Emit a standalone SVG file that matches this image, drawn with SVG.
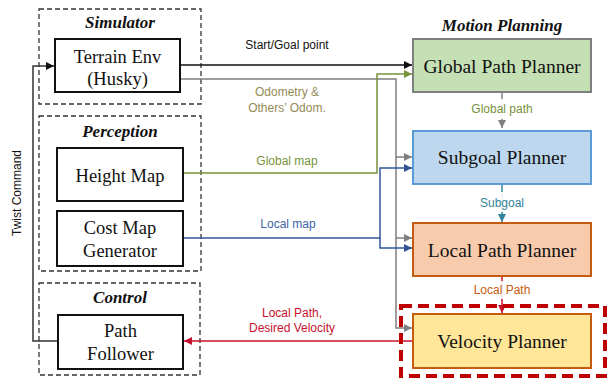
<svg xmlns="http://www.w3.org/2000/svg" width="614" height="380" viewBox="0 0 614 380">
<style>
.grp{fill:none;stroke:#333;stroke-width:1.3;stroke-dasharray:5 3}
.box{fill:#fff;stroke:#111;stroke-width:2}
.bt{font-family:"Liberation Serif","Times New Roman",serif;font-size:18.5px;fill:#111;text-anchor:middle}
.pt{font-family:"Liberation Serif","Times New Roman",serif;font-size:19.5px;fill:#111;text-anchor:middle}
.title{font-family:"Liberation Serif","Times New Roman",serif;font-size:17px;font-weight:bold;font-style:italic;fill:#111;text-anchor:middle}
.lbl{font-family:"Liberation Sans",Arial,sans-serif;font-size:12px;text-anchor:middle}
.ln{fill:none;stroke-width:1.5}
</style>
<defs>
<marker id="ak" markerUnits="userSpaceOnUse" markerWidth="9" markerHeight="9" refX="8" refY="4" orient="auto"><path d="M0,0 L8,4 L0,8 z" fill="#111"/></marker>
<marker id="ag" markerUnits="userSpaceOnUse" markerWidth="9" markerHeight="9" refX="8" refY="4" orient="auto"><path d="M0,0 L8,4 L0,8 z" fill="#7f7f7f"/></marker>
<marker id="agr" markerUnits="userSpaceOnUse" markerWidth="9" markerHeight="9" refX="8" refY="4" orient="auto"><path d="M0,0 L8,4 L0,8 z" fill="#77933c"/></marker>
<marker id="ab" markerUnits="userSpaceOnUse" markerWidth="9" markerHeight="9" refX="8" refY="4" orient="auto"><path d="M0,0 L8,4 L0,8 z" fill="#2f5597"/></marker>
<marker id="at" markerUnits="userSpaceOnUse" markerWidth="9" markerHeight="9" refX="8" refY="4" orient="auto"><path d="M0,0 L8,4 L0,8 z" fill="#31849b"/></marker>
<marker id="ar" markerUnits="userSpaceOnUse" markerWidth="9" markerHeight="9" refX="8" refY="4" orient="auto"><path d="M0,0 L8,4 L0,8 z" fill="#c8102e"/></marker>
</defs>

<g id="groups">
<rect class="grp" x="39" y="9" width="162" height="95"/>
<text class="title" x="120" y="28">Simulator</text>
<rect class="grp" x="39" y="116" width="162" height="155"/>
<text class="title" x="120" y="137">Perception</text>
<rect class="grp" x="39" y="283" width="161" height="92"/>
<text class="title" x="120" y="303">Control</text>
<text class="title" x="502" y="31">Motion Planning</text>
</g>

<g id="connectors">
<path class="ln" d="M180 65 H412" stroke="#111" marker-end="url(#ak)"/>
<path class="ln" d="M180 79 H396 V328 H412" stroke="#7f7f7f" marker-end="url(#ag)"/>
<path class="ln" d="M396 157 H412" stroke="#7f7f7f" marker-end="url(#ag)"/>
<path class="ln" d="M396 238 H412" stroke="#7f7f7f" marker-end="url(#ag)"/>
<path class="ln" d="M183 173 H377 V74 H412" stroke="#77933c" marker-end="url(#agr)"/>
<path class="ln" d="M183 238 H380 V168 H412" stroke="#2f5597" marker-end="url(#ab)"/>
<path class="ln" d="M380 238 V248 H412" stroke="#2f5597" marker-end="url(#ab)"/>
<path class="ln" d="M413 341 H184" stroke="#c8102e" marker-end="url(#ar)"/>
<path class="ln" d="M58 341 H33 V66 H54" stroke="#333" stroke-width="2" marker-end="url(#ak)"/>
<path class="ln" d="M502 92 V128" stroke="#7f7f7f" marker-end="url(#ag)"/>
<path class="ln" d="M502 184 V222" stroke="#31849b" marker-end="url(#at)"/>
<path class="ln" d="M502 276 V313" stroke="#c8102e" marker-end="url(#ar)"/>
<rect x="428" y="99" width="148" height="20" fill="#fff" opacity="0.9"/>
<rect x="455" y="192" width="94" height="20" fill="#fff" opacity="0.9"/>
<rect x="455" y="281" width="94" height="18" fill="#fff" opacity="0.9"/>
<text class="lbl" x="287" y="49" fill="#111">Start/Goal point</text>
<text class="lbl" x="287" y="96" fill="#948a54">Odometry &amp;</text>
<text class="lbl" x="287" y="112" fill="#948a54">Others’ Odom.</text>
<text class="lbl" x="287" y="165" fill="#77933c">Global map</text>
<text class="lbl" x="288" y="228" fill="#3d64a8">Local map</text>
<text class="lbl" x="292" y="317" fill="#c8102e">Local Path,</text>
<text class="lbl" x="292" y="332" fill="#c8102e">Desired Velocity</text>
<text class="lbl" x="502" y="113" fill="#77933c">Global path</text>
<text class="lbl" x="502" y="207" fill="#31849b">Subgoal</text>
<text class="lbl" x="502" y="294" fill="#c55a11">Local Path</text>
<text class="lbl" transform="translate(21,193) rotate(-90)" fill="#111">Twist Command</text>
</g>

<g id="terrain">
<rect class="box" x="55" y="39" width="125" height="53"/>
<text class="bt" x="117.5" y="63">Terrain Env</text>
<text class="bt" x="117.5" y="85">(Husky)</text>
</g>
<g id="heightmap">
<rect class="box" x="57" y="148" width="126" height="53"/>
<text class="bt" x="120" y="182">Height Map</text>
</g>
<g id="costmap">
<rect class="box" x="57" y="211" width="126" height="55"/>
<text class="bt" x="120" y="234">Cost Map</text>
<text class="bt" x="120" y="257">Generator</text>
</g>
<g id="pathfollower">
<rect class="box" x="58" y="315" width="125" height="54"/>
<text class="bt" x="120.5" y="337">Path</text>
<text class="bt" x="120.5" y="360">Follower</text>
</g>

<g id="global">
<rect x="413" y="39" width="178" height="53" fill="#c5e0b4" stroke="#7f7f7f" stroke-width="2"/>
<text class="pt" x="502" y="73">Global Path Planner</text>
</g>
<g id="subgoal">
<rect x="413" y="131" width="178" height="53" fill="#bdd7ee" stroke="#5b9bd5" stroke-width="2"/>
<text class="pt" x="502" y="164">Subgoal Planner</text>
</g>
<g id="local">
<rect x="413" y="223" width="178" height="53" fill="#f8cbad" stroke="#c55a11" stroke-width="2"/>
<text class="pt" x="502" y="257">Local Path Planner</text>
</g>
<g id="velocity">
<rect x="413" y="314" width="178" height="54" fill="#ffe699" stroke="#c55a11" stroke-width="2"/>
<text class="pt" x="502" y="348">Velocity Planner</text>
<rect x="401" y="306" width="204" height="70" fill="none" stroke="#c00000" stroke-width="4" stroke-dasharray="11 6"/>
</g>
</svg>
